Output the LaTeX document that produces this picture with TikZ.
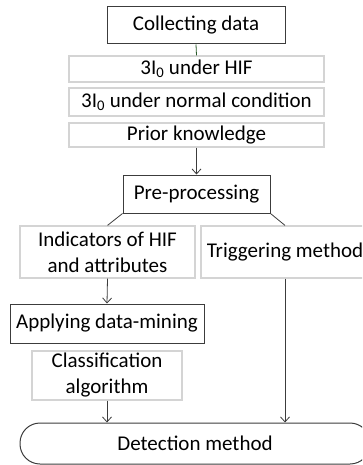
\documentclass[tikz,border=0pt]{standalone}
\usepackage{fontspec}
\setmainfont{Carlito}
\usetikzlibrary{arrows.meta}
\definecolor{darkedge}{RGB}{60,60,60}
\definecolor{lightedge}{RGB}{212,212,212}
\definecolor{linkgreen}{RGB}{40,90,40}
\tikzset{
  box/.style={draw, line width=1pt, inner sep=0pt, align=center,
    font=\fontsize{21}{26}\selectfont, text=black},
  darkbox/.style={box, draw=darkedge},
  lightbox/.style={box, draw=lightedge, line width=1.2pt},
  link/.style={draw=darkedge, line width=0.8pt},
  arrowlink/.style={link, -{Straight Barb[length=5pt,width=9pt]}},
}
\begin{document}
\begin{tikzpicture}[x=1pt,y=1pt]
\useasboundingbox (0,0) rectangle (362,-465);
\clip (0,0) rectangle (362,-465);

% data collection stage
\node[darkbox, minimum width=178, minimum height=37] (collect) at (196,-25.5) {Collecting data};
\node[lightbox, minimum width=255, minimum height=26] (hif) at (196.5,-69) {3I\textsubscript{0} under HIF};
\node[lightbox, minimum width=255, minimum height=28] (normal) at (196.5,-102) {3I\textsubscript{0} under normal condition};
\node[lightbox, minimum width=255, minimum height=24] (prior) at (196.5,-135) {Prior knowledge};

% pre-processing and its two branches
\node[darkbox, minimum width=147, minimum height=38] (pre) at (196.5,-194) {Pre-processing};
\node[lightbox, minimum width=175, minimum height=52] (ind) at (107.5,-252) {Indicators of HIF\\and attributes};
\node[lightbox, minimum width=168, minimum height=52] (trig) at (285,-252) {Triggering method};

% data-mining branch
\node[darkbox, minimum width=194, minimum height=39] (apply) at (107,-323.5) {Applying data-mining};
\node[lightbox, minimum width=150, minimum height=49] (class) at (107,-375.5) {Classification\\algorithm};

% final stage
\node[darkbox, rounded corners=20pt, minimum width=350, minimum height=41] (detect) at (195,-443.5) {Detection method};

% connectors
\draw[link, draw=linkgreen] (collect.south) -- (hif.north);
\draw[arrowlink] (prior.south) -- (pre.north);
\draw[link] (pre.south west) -- (ind.north);
\draw[link] (pre.south east) -- (trig.north);
\draw[arrowlink] (ind.south) -- (apply.north);
\draw[arrowlink] (class.south) -- (class.south |- detect.north);
\draw[arrowlink] (trig.south) -- (trig.south |- detect.north);
\end{tikzpicture}
\end{document}
